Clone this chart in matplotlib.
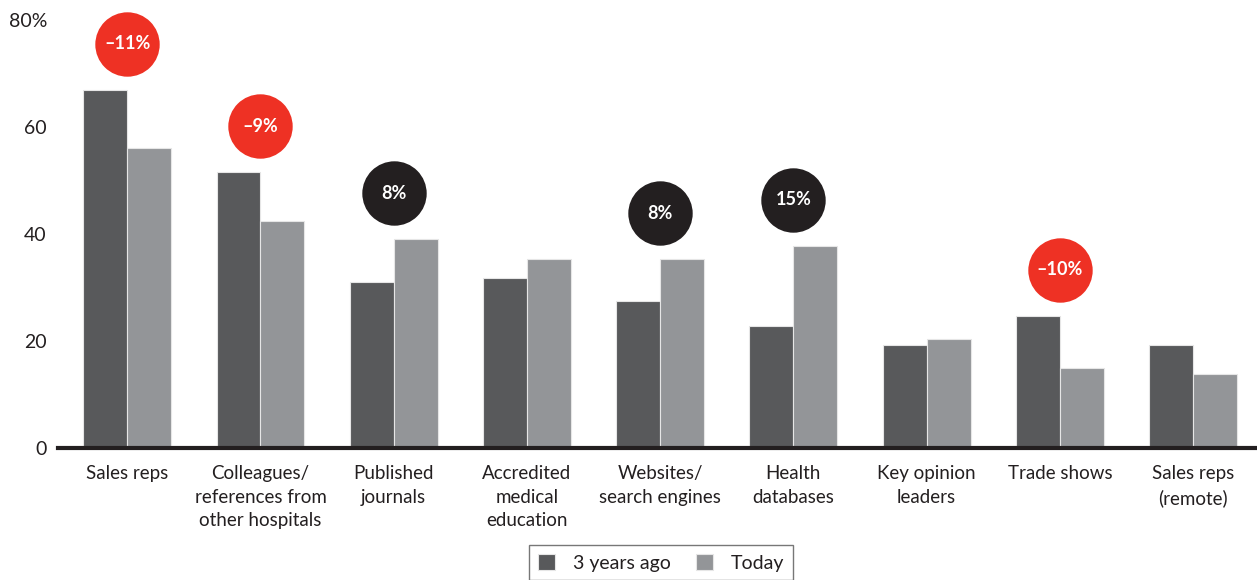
import matplotlib
matplotlib.use('Agg')
from matplotlib import pyplot as plt
import numpy as np

plt.rcParams['font.family'] = ['Lato', 'DejaVu Sans']

categories = ['Sales reps', 'Colleagues/\nreferences from\nother hospitals', 'Published\njournals',
              'Accredited\nmedical\neducation', 'Websites/\nsearch engines', 'Health\ndatabases',
              'Key opinion\nleaders', 'Trade shows', 'Sales reps\n(remote)']
three_years_ago = [67, 51.5, 31, 31.8, 27.5, 22.8, 19.3, 24.7, 19.3]
today = [56, 42.5, 39, 35.3, 35.3, 37.8, 20.4, 15, 13.8]
y_ticks = [0, 20, 40, 60, 80]
y_tick_labels = ['0', '20', '40', '60', '80%']

DARK = '#58595b'
LIGHT = '#939598'
RED = '#ee3124'
BLACK = '#231f20'


def main():
    fig = plt.figure(figsize=(12.57, 5.8), dpi=100)
    ax = fig.add_axes([58 / 1257, 1 - 448 / 580, 1 - 58 / 1257, 428 / 580])

    x = np.arange(len(categories))
    w = 0.33
    ax.bar(x - w / 2, three_years_ago, w, color=DARK, edgecolor='#e6e6e6', linewidth=0.8, label='3 years ago')
    ax.bar(x + w / 2, today, w, color=LIGHT, edgecolor='#e6e6e6', linewidth=0.8, label='Today')

    # change bubbles only where the shift is big enough to call out
    for i in range(len(categories)):
        change = today[i] - three_years_ago[i]
        if abs(change) < 7.5:
            continue
        top = max(today[i], three_years_ago[i]) + 8.6
        color = RED if change < 0 else BLACK
        ax.scatter(x[i], top, s=2150, color=color, zorder=5, linewidths=0, clip_on=False)
        label = ('\u2013' if change < 0 else '') + '%d%%' % round(abs(change))
        ax.text(x[i], top, label, color='white', fontsize=13, fontweight='bold',
                ha='center', va='center', zorder=6)

    ax.set_xlim(-0.52, len(categories) - 0.52)
    ax.set_ylim(0, 80)
    ax.set_yticks(y_ticks)
    ax.set_yticklabels(y_tick_labels, fontsize=14, color=BLACK)
    ax.set_xticks(x)
    ax.set_xticklabels(categories, fontsize=13.5, color=BLACK, linespacing=1.45)
    ax.tick_params(axis='both', length=0)
    ax.tick_params(axis='x', pad=12.5)
    ax.tick_params(axis='y', pad=8)

    for side in ['top', 'right', 'left']:
        ax.spines[side].set_visible(False)
    ax.spines['bottom'].set_linewidth(3)
    ax.spines['bottom'].set_color(BLACK)
    ax.spines['bottom'].set_zorder(4)

    leg = fig.legend(loc='upper center', bbox_to_anchor=(661 / 1257, 1 - 545 / 580), ncol=2,
                     fontsize=14, frameon=True, fancybox=False, handlelength=0.9, handleheight=0.9,
                     columnspacing=1.3, borderpad=0.45, handletextpad=0.9, borderaxespad=0)
    leg.get_frame().set_edgecolor('#555555')
    leg.get_frame().set_linewidth(1)
    for t in leg.get_texts():
        t.set_color(BLACK)

    fig.savefig('out.png', dpi=100)


if __name__ == '__main__':
    main()
